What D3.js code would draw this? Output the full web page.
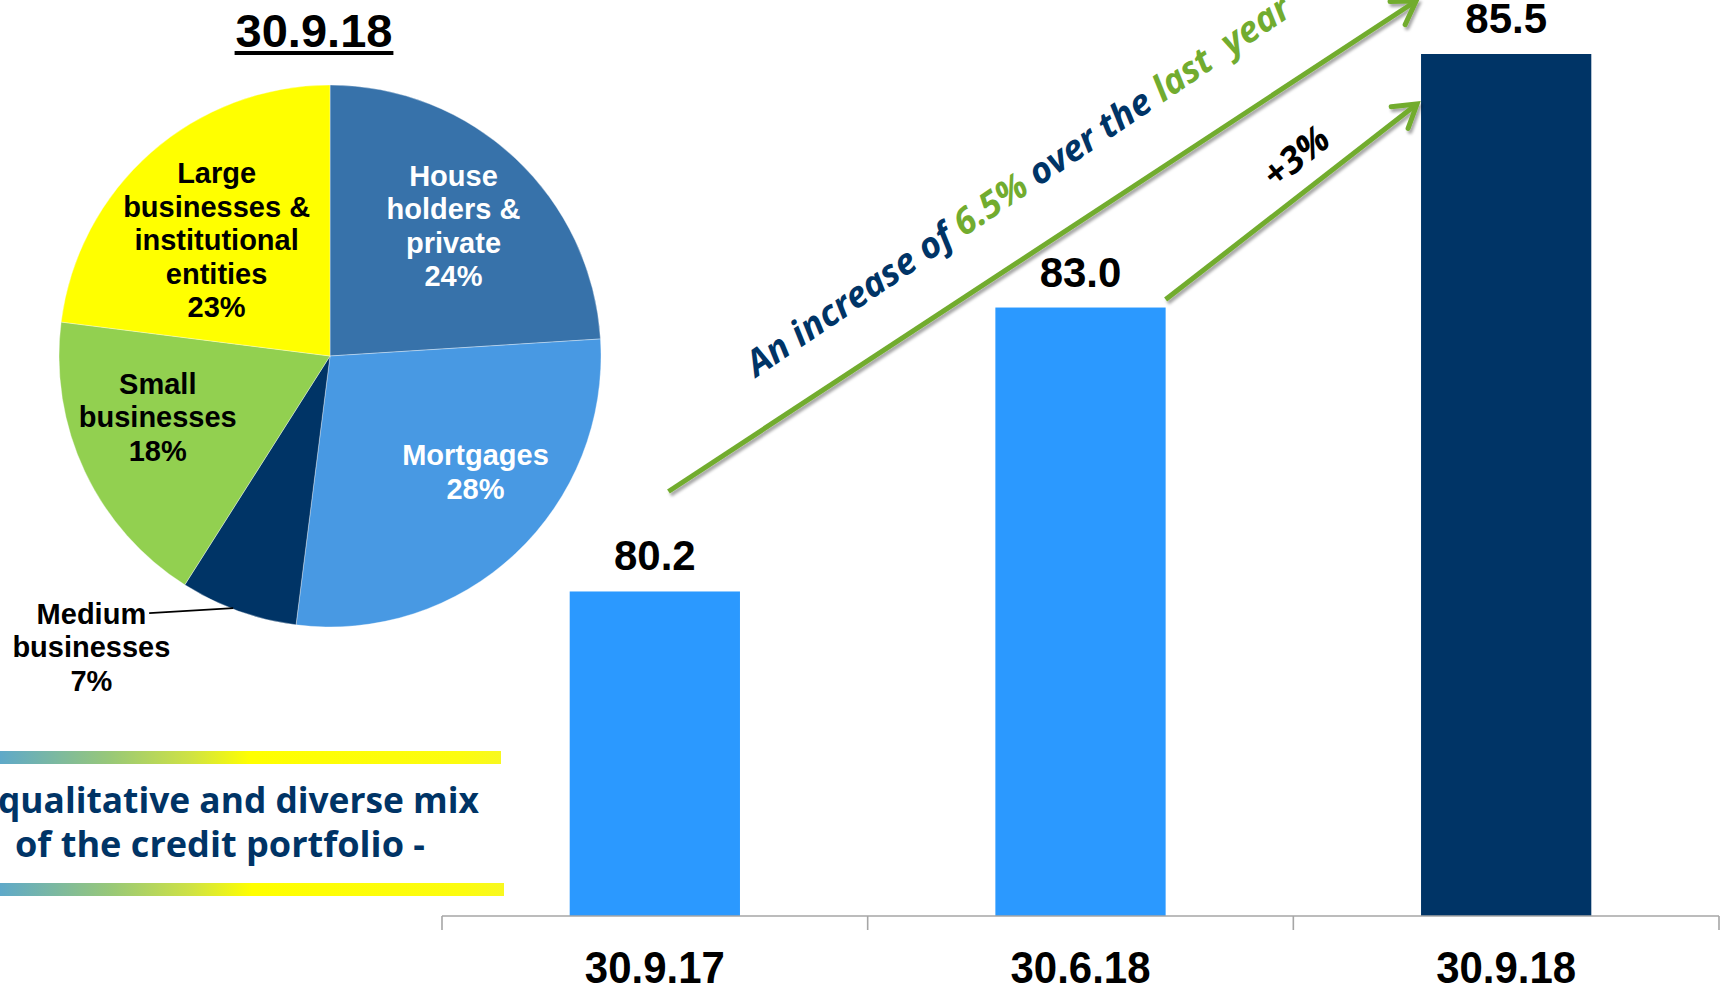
<!DOCTYPE html>
<html>
<head>
<meta charset="utf-8">
<script src="https://cdn.jsdelivr.net/npm/d3@7"></script>
<style>
  html, body { margin: 0; padding: 0; background: #fff; overflow: hidden; }
  svg { display: block; }
</style>
</head>
<body>
<svg id="chart" width="1725" height="987"></svg>
<script>
// Credit portfolio totals by reporting date
const categories = ["30.9.17", "30.6.18", "30.9.18"];
const values = [80.2, 83.0, 85.5];

// Portfolio mix at the latest date (% of total)
const segments = ["House holders & private", "Mortgages", "Medium businesses", "Small businesses", "Large businesses & institutional entities"];
const shares = [24, 28, 7, 18, 23];
const segmentLabelLines = [
  ["House", "holders &", "private"],
  ["Mortgages"],
  ["Medium", "businesses"],
  ["Small", "businesses"],
  ["Large", "businesses &", "institutional", "entities"]
];

// Growth call-outs
const yearGrowth = "6.5%";
const quarterGrowth = "+3%";
const mixCaption = ["qualitative and diverse mix", "of the credit portfolio -"];

// ---------- styling / layout ----------
const barColors = ["#2B99FF", "#2B99FF", "#003466"];
const sliceColors = ["#3772AA", "#4899E3", "#003466", "#92D050", "#FFFF00"];
const sliceTextColors = ["#ffffff", "#ffffff", "#000000", "#000000", "#000000"];
const navy = "#003466";
const green = "#72AC2F";
const arialBold = "'Liberation Sans', Arial, sans-serif";
const sansUI = "'Open Sans', 'Noto Sans', sans-serif";

const svg = d3.select("#chart");
const defs = svg.append("defs");

// soft shadow under the arrows
const shadow = defs.append("filter").attr("id", "arrowShadow")
  .attr("x", "-10%").attr("y", "-10%").attr("width", "130%").attr("height", "130%");
shadow.append("feDropShadow").attr("dx", 2).attr("dy", 3).attr("stdDeviation", 1.6)
  .attr("flood-color", "#000").attr("flood-opacity", 0.35);

// teal → yellow rule used around the caption
const grad = defs.append("linearGradient").attr("id", "ruleGrad")
  .attr("x1", "0%").attr("x2", "100%").attr("y1", "0%").attr("y2", "0%");
[["0%", "#5FA9C9"], ["22%", "#98C878"], ["38%", "#CFE244"], ["50%", "#FFFF00"], ["92%", "#FCFC10"], ["100%", "#F8F820"]]
  .forEach(([o, c]) => grad.append("stop").attr("offset", o).attr("stop-color", c));

// ---------- bar chart ----------
const x = d3.scaleBand().domain(categories).range([442, 1719]).paddingInner(0.6).paddingOuter(0.3);
const y = d3.scaleLinear().domain([77, 85.5]).range([916, 54]);
const bw = x.bandwidth();

const bars = svg.append("g");
bars.selectAll("rect").data(categories).join("rect")
  .attr("x", d => x(d))
  .attr("y", (d, i) => y(values[i]))
  .attr("width", bw)
  .attr("height", (d, i) => y.range()[0] - y(values[i]))
  .attr("fill", (d, i) => barColors[i]);

bars.selectAll("text.value").data(categories).join("text")
  .attr("class", "value")
  .attr("x", d => x(d) + bw / 2)
  .attr("y", (d, i) => y(values[i]) - 21)
  .attr("text-anchor", "middle")
  .attr("font-family", arialBold).attr("font-weight", 700).attr("font-size", 42)
  .attr("fill", "#000")
  .text((d, i) => values[i].toFixed(1));

// category axis: ticks sit on the band boundaries
const axisG = svg.append("g");
const [r0, r1] = x.range();
const base = y.range()[0];
axisG.append("path")
  .attr("d", `M${r0},${base}H${r1}`)
  .attr("stroke", "#A6A6A6").attr("stroke-width", 1.6).attr("fill", "none");
axisG.selectAll("line").data(d3.range(categories.length + 1)).join("line")
  .attr("x1", i => r0 + i * x.step()).attr("x2", i => r0 + i * x.step())
  .attr("y1", base).attr("y2", base + 14)
  .attr("stroke", "#A6A6A6").attr("stroke-width", 1.6);
axisG.selectAll("text").data(categories).join("text")
  .attr("x", d => x(d) + bw / 2)
  .attr("y", base + 67)
  .attr("text-anchor", "middle")
  .attr("font-family", arialBold).attr("font-weight", 700).attr("font-size", 44)
  .attr("textLength", 140).attr("lengthAdjust", "spacingAndGlyphs")
  .attr("fill", "#000")
  .text(d => d);

// ---------- growth arrows ----------
function arrow(p0, p1) {
  const g = svg.append("g").attr("filter", "url(#arrowShadow)");
  const ang = Math.atan2(p1[1] - p0[1], p1[0] - p0[0]);
  const head = 26, spread = 32 * Math.PI / 180;
  const b1 = [p1[0] - head * Math.cos(ang - spread), p1[1] - head * Math.sin(ang - spread)];
  const b2 = [p1[0] - head * Math.cos(ang + spread), p1[1] - head * Math.sin(ang + spread)];
  g.append("path").attr("d", d3.line()([p0, p1]))
    .attr("stroke", green).attr("stroke-width", 5).attr("fill", "none");
  g.append("path").attr("d", d3.line()([b1, p1, b2]))
    .attr("stroke", green).attr("stroke-width", 5).attr("fill", "none")
    .attr("stroke-linejoin", "miter").attr("stroke-linecap", "round");
  return ang;
}
// point along the arrow (t) and offset above it (d)
function along(p0, ang, t, d) {
  const ux = Math.cos(ang), uy = Math.sin(ang);
  return [p0[0] + ux * t + uy * d, p0[1] + uy * t - ux * d];
}

const c0 = categories[0], c1 = categories[1], c2 = categories[2];
const a1Start = [x(c0) + bw * 0.58, y(values[0]) - 100];
const a1End = [x(c2) - 5, y(values[2]) - 53];
const a2Start = [x(c1) + bw, y(values[1]) - 8];
const a2End = [x(c2) - 4, y(values[2]) + 50];

const ang1 = arrow(a1Start, a1End);
const ang2 = arrow(a2Start, a2End);

const t1 = along(a1Start, ang1, 136, 47);
const yearText = svg.append("text")
  .attr("transform", `translate(${t1[0]},${t1[1]}) rotate(${ang1 * 180 / Math.PI - 0.8})`)
  .attr("font-family", sansUI).attr("font-weight", 700).attr("font-style", "italic")
  .attr("font-size", 36).attr("xml:space", "preserve");
[["An increase of ", navy], [yearGrowth, green], [" over the ", navy], ["last  year", green]]
  .forEach(([s, c]) => yearText.append("tspan").attr("fill", c).text(s));

const t2 = along(a2Start, ang2, 191, 20);
svg.append("text")
  .attr("transform", `translate(${t2[0]},${t2[1]}) rotate(${ang2 * 180 / Math.PI - 1})`)
  .attr("text-anchor", "middle")
  .attr("font-family", sansUI).attr("font-weight", 700).attr("font-style", "italic")
  .attr("font-size", 37).attr("fill", "#000")
  .text(quarterGrowth);

// ---------- pie ----------
const cx = 330, cy = 356, R = 271;
const pie = d3.pie().sort(null).value(d => d);
const arcs = pie(shares);
const arc = d3.arc().innerRadius(0).outerRadius(R);
const labelArc = d3.arc().innerRadius(176).outerRadius(176);
const edgeArc = d3.arc().innerRadius(268).outerRadius(268);

const pieG = svg.append("g").attr("transform", `translate(${cx},${cy})`);
pieG.selectAll("path").data(arcs).join("path")
  .attr("d", arc)
  .attr("fill", (d, i) => sliceColors[i])
  .attr("stroke", "#ffffff").attr("stroke-opacity", 0.35).attr("stroke-width", 1);

// label nudges from the slice centroid; the small slice is labelled outside
const labelShift = [[3, -2], [25, -13], [-179, 125], [-13, -14], [3, 16]];
const lineH = 33.5, fs = 29;
arcs.forEach((a, i) => {
  const c = labelArc.centroid(a);
  const lx = c[0] + labelShift[i][0], ly = c[1] + labelShift[i][1];
  const lines = segmentLabelLines[i].concat([`${shares[i]}%`]);
  const t = pieG.append("text")
    .attr("text-anchor", "middle")
    .attr("font-family", arialBold).attr("font-weight", 700).attr("font-size", fs)
    .attr("fill", sliceTextColors[i]);
  lines.forEach((ln, k) => {
    t.append("tspan").attr("x", lx)
      .attr("y", ly + (k - (lines.length - 1) / 2) * lineH + 10.5)
      .text(ln);
  });
  if (i === 2) {
    // leader from the outside label to the slice edge
    const first = t.select("tspan").node();
    const w = first.getComputedTextLength();
    const start = [lx + w / 2 + 3, ly - (lines.length - 1) / 2 * lineH];
    const end = edgeArc.centroid(a);
    pieG.append("path").attr("d", d3.line()([start, [end[0] - 6, end[1]]]))
      .attr("stroke", "#000").attr("stroke-width", 1.6).attr("fill", "none");
  }
});

// title above the pie
const title = svg.append("text")
  .attr("x", cx - 16).attr("y", 47)
  .attr("text-anchor", "middle")
  .attr("font-family", arialBold).attr("font-weight", 700).attr("font-size", 47)
  .attr("fill", "#000")
  .text(categories[2]);
const tb = title.node().getBBox();
svg.append("rect").attr("x", tb.x - 1).attr("y", 51).attr("width", tb.width + 2).attr("height", 4).attr("fill", "#000");

// ---------- caption block ----------
svg.append("rect").attr("x", 0).attr("y", 751).attr("width", 501).attr("height", 13).attr("fill", "url(#ruleGrad)");
svg.append("rect").attr("x", 0).attr("y", 883).attr("width", 504).attr("height", 13).attr("fill", "url(#ruleGrad)");
const capX = [-2, 15], capY = [813, 857], capW = [481, 410];
mixCaption.forEach((s, i) => {
  svg.append("text")
    .attr("x", capX[i]).attr("y", capY[i])
    .attr("font-family", sansUI).attr("font-weight", 700).attr("font-size", 36)
    .attr("textLength", capW[i]).attr("lengthAdjust", "spacingAndGlyphs")
    .attr("fill", navy)
    .text(s);
});
</script>
</body>
</html>
